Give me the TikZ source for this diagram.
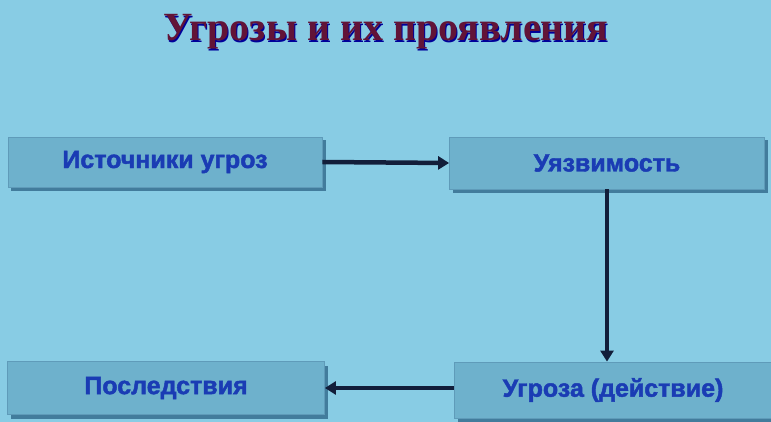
\documentclass[tikz,border=0pt]{standalone}
\usepackage{fontspec}
\setmainfont{Liberation Serif}
\newfontfamily\boxfont[FakeBold=1.8]{Liberation Sans Bold}
\usetikzlibrary{arrows.meta}
\definecolor{bgc}{RGB}{136,204,228}
\definecolor{boxc}{RGB}{110,177,204}
\definecolor{boxshade}{RGB}{66,124,156}
\definecolor{boxline}{RGB}{95,155,185}
\definecolor{txtc}{RGB}{26,60,180}
\definecolor{titc}{RGB}{98,20,55}
\definecolor{arrc}{RGB}{18,30,58}
\tikzset{
  stepbox/.style={fill=boxc, draw=boxline, line width=0.8pt, minimum height=50pt, inner sep=0pt,
    font=\boxfont\fontsize{25}{28}\selectfont, text=txtc},
  conn/.style={draw=arrc, line width=4.5pt, -{Triangle[length=11pt,width=13pt]}}
}
\begin{document}
\begin{tikzpicture}[x=1pt,y=-1pt]
\fill[bgc] (0,0) rectangle (771,422);
\useasboundingbox (0,0) rectangle (771,422);
% title
\node[text=blue!60!black, font=\bfseries\fontsize{40}{42}\selectfont] at (387,33.5) {Угрозы и их проявления};
\node[text=titc, font=\bfseries\fontsize{40}{42}\selectfont] (title) at (386,32) {Угрозы и их проявления};
% shadows
\fill[boxshade] (11,140) rectangle (326,191);
\fill[boxshade] (453,140) rectangle (768,193);
\fill[boxshade] (11,366) rectangle (328,419);
\fill[boxshade] (458,366) rectangle (774,422);
% boxes
\node[stepbox, minimum width=314pt, minimum height=50pt] (src) at (165,162) {Источники угроз};
\node[stepbox, minimum width=315pt, minimum height=52pt] (vul) at (607,163) {Уязвимость};
\node[stepbox, minimum width=317pt, minimum height=53pt] (cons) at (166,388) {Последствия};
\node[stepbox, minimum width=318pt, minimum height=56pt] (thr) at (613,390) {Угроза (действие)};
% connectors
\draw[conn] (src.east) -- (vul.west);
\draw[conn] (vul.south) -- (vul.south |- thr.north);
\draw[conn] (thr.west |- cons.east) -- (cons.east);
\end{tikzpicture}
\end{document}
